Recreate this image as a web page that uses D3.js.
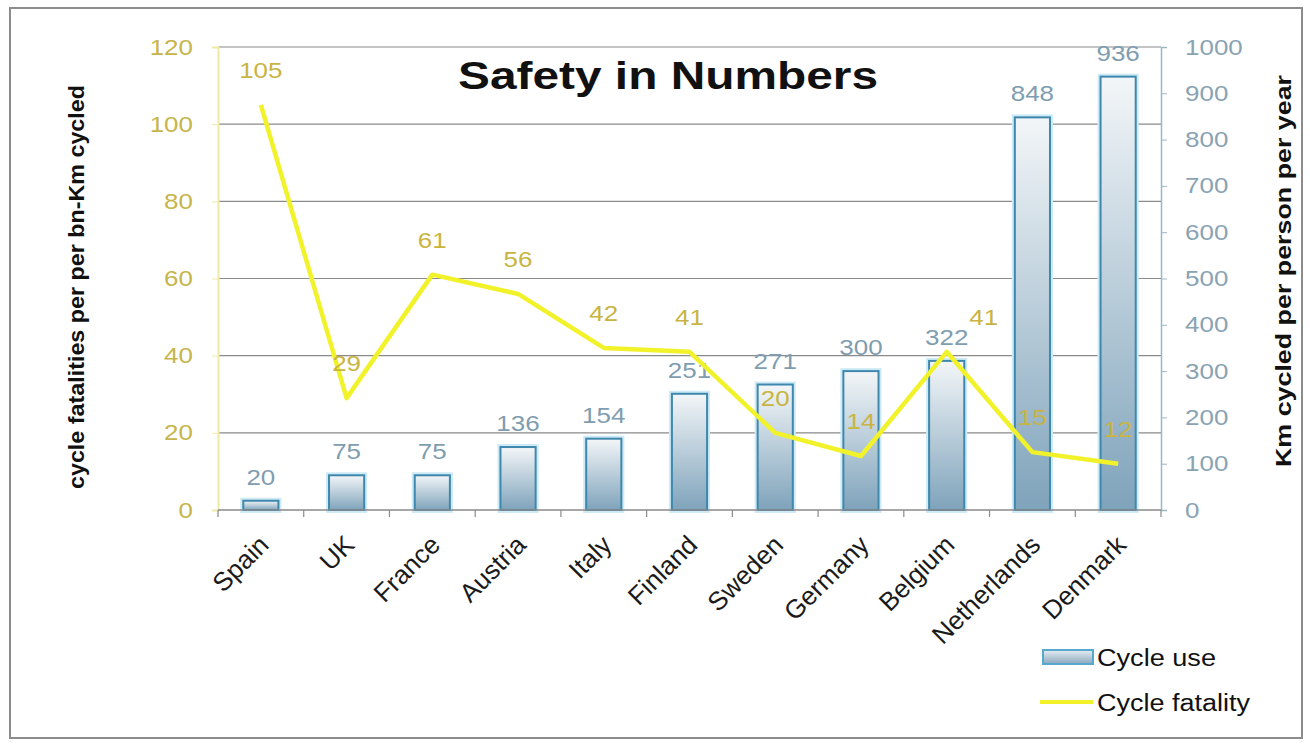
<!DOCTYPE html>
<html lang="en">
<head>
<meta charset="UTF-8">
<title>Safety in Numbers</title>
<style>
  body { margin: 0; background: #fff; }
  text { font-family: "Liberation Sans", Arial, sans-serif; }
</style>
</head>
<body>
<script src="https://d3js.org/d3.v7.min.js"></script>
<script>
// data
var countries = ["Spain", "UK", "France", "Austria", "Italy", "Finland", "Sweden", "Germany", "Belgium", "Netherlands", "Denmark"];
var cycleUse = [20, 75, 75, 136, 154, 251, 271, 300, 322, 848, 936];
var cycleFatality = [105, 29, 61, 56, 42, 41, 20, 14, 41, 15, 12];
var leftTicks = [0, 20, 40, 60, 80, 100, 120];
var rightTicks = [0, 100, 200, 300, 400, 500, 600, 700, 800, 900, 1000];

var width = 1310, height = 745;
var plotLeft = 218, plotRight = 1161, plotTop = 47, plotBottom = 510;
var stretch = 1.18; // the original picture is a bit wider than tall

var svg = d3.select("body").append("svg")
    .attr("width", width)
    .attr("height", height);

var defs = svg.append("defs");
var grad = defs.append("linearGradient").attr("id", "barGrad")
    .attr("x1", 0).attr("y1", 0).attr("x2", 0).attr("y2", 1);
grad.append("stop").attr("offset", "0%").attr("stop-color", "#f3f6f8");
grad.append("stop").attr("offset", "100%").attr("stop-color", "#7fa3bb");
var lgrad = defs.append("linearGradient").attr("id", "legGrad")
    .attr("x1", 0).attr("y1", 0).attr("x2", 0).attr("y2", 1);
lgrad.append("stop").attr("offset", "0%").attr("stop-color", "#e6edf2");
lgrad.append("stop").attr("offset", "100%").attr("stop-color", "#8aa8bd");

// stretch horizontal text to the same width as the picture
function widen(sel, k) {
    sel.each(function() {
        var w = this.getComputedTextLength();
        d3.select(this).attr("textLength", w * (k || stretch)).attr("lengthAdjust", "spacingAndGlyphs");
    });
}

// frame
svg.append("rect")
    .attr("x", 10).attr("y", 8).attr("width", 1292).attr("height", 730)
    .attr("fill", "none").attr("stroke", "#8c8c8c").attr("stroke-width", 2);

var x = d3.scaleBand().domain(countries).range([plotLeft, plotRight]).padding(0);
var yL = d3.scaleLinear().domain([0, 120]).range([plotBottom, plotTop]);
var yR = d3.scaleLinear().domain([0, 1000]).range([plotBottom, plotTop]);

// gridlines
svg.append("g").selectAll("line")
    .data(leftTicks.filter(function(d) { return d > 0; }))
    .enter().append("line")
    .attr("x1", plotLeft).attr("x2", plotRight)
    .attr("y1", function(d) { return yL(d); })
    .attr("y2", function(d) { return yL(d); })
    .attr("stroke", "#8a8a8a").attr("stroke-width", 1.2);

// left axis
var gL = svg.append("g").attr("transform", "translate(" + plotLeft + ",0)")
    .call(d3.axisLeft(yL).tickValues(leftTicks).tickSize(6).tickPadding(19));
gL.select(".domain").attr("stroke", "#eeeaa6").attr("stroke-width", 2);
gL.selectAll(".tick line").attr("stroke", "#eeeaa6");
gL.selectAll(".tick text").attr("fill", "#c6b54a").style("font-size", "22px")
    .style("font-family", "'Liberation Sans', Arial, sans-serif")
    .call(widen);

// right axis
var gR = svg.append("g").attr("transform", "translate(" + plotRight + ",0)")
    .call(d3.axisRight(yR).tickValues(rightTicks).tickFormat(d3.format("d")).tickSize(6).tickPadding(18));
gR.select(".domain").attr("stroke", "#9bb7c6").attr("stroke-width", 1.5);
gR.selectAll(".tick line").attr("stroke", "#9bb7c6");
gR.selectAll(".tick text").attr("fill", "#8aa3b3").style("font-size", "22px")
    .style("font-family", "'Liberation Sans', Arial, sans-serif")
    .call(widen);

// bars
var bw = x.bandwidth() * 0.41;
var bars = svg.append("g");
bars.selectAll("rect.glow")
    .data(cycleUse).enter().append("rect")
    .attr("class", "glow")
    .attr("x", function(d, i) { return x(countries[i]) + x.bandwidth() / 2 - bw / 2; })
    .attr("y", function(d) { return yR(d); })
    .attr("width", bw)
    .attr("height", function(d) { return plotBottom - yR(d); })
    .attr("fill", "none").attr("stroke", "#cdeaf6").attr("stroke-width", 6);
bars.selectAll("rect.bar")
    .data(cycleUse).enter().append("rect")
    .attr("class", "bar")
    .attr("x", function(d, i) { return x(countries[i]) + x.bandwidth() / 2 - bw / 2; })
    .attr("y", function(d) { return yR(d); })
    .attr("width", bw)
    .attr("height", function(d) { return plotBottom - yR(d); })
    .attr("fill", "url(#barGrad)").attr("stroke", "#3f88ad").attr("stroke-width", 2);

// x axis
var gX = svg.append("g").attr("transform", "translate(0," + plotBottom + ")");
gX.append("line").attr("x1", plotLeft).attr("x2", plotRight)
    .attr("stroke", "#8a8a8a").attr("stroke-width", 1.5);
gX.selectAll("line.tk")
    .data(countries.concat(["end"])).enter().append("line")
    .attr("class", "tk")
    .attr("x1", function(d, i) { return plotLeft + i * x.step(); })
    .attr("x2", function(d, i) { return plotLeft + i * x.step(); })
    .attr("y1", 0).attr("y2", 7)
    .attr("stroke", "#8a8a8a").attr("stroke-width", 1.2);
gX.selectAll("text")
    .data(countries).enter().append("text")
    .attr("transform", function(d) {
        return "translate(" + (x(d) + x.bandwidth() / 2 + 3) + ",30) rotate(-45)";
    })
    .attr("text-anchor", "end").attr("dy", "0.35em")
    .attr("fill", "#1a1a1a").style("font-size", "26px")
    .text(function(d) { return d; });

// bar labels
svg.append("g").selectAll("text")
    .data(cycleUse).enter().append("text")
    .attr("x", function(d, i) { return x(countries[i]) + x.bandwidth() / 2; })
    .attr("y", function(d) { return yR(d) - 16; })
    .attr("text-anchor", "middle")
    .attr("fill", "#7f9db0").style("font-size", "22px")
    .text(function(d) { return d; })
    .call(widen);

// fatality line
var line = d3.line()
    .x(function(d, i) { return x(countries[i]) + x.bandwidth() / 2; })
    .y(function(d) { return yL(d); });
svg.append("path")
    .datum(cycleFatality)
    .attr("d", line)
    .attr("fill", "none").attr("stroke", "#f2f22a").attr("stroke-width", 4.5)
    .attr("stroke-linejoin", "round");

svg.append("g").selectAll("text")
    .data(cycleFatality).enter().append("text")
    .attr("x", function(d, i) {
        var cx = x(countries[i]) + x.bandwidth() / 2;
        return countries[i] === "Belgium" ? cx + 37 : cx;
    })
    .attr("y", function(d) { return yL(d) - 27; })
    .attr("text-anchor", "middle")
    .attr("fill", "#c9b441").style("font-size", "22px")
    .text(function(d) { return d; })
    .call(widen);

// title
svg.append("text")
    .attr("x", 668).attr("y", 89)
    .attr("text-anchor", "middle")
    .style("font-size", "39px").style("font-weight", "bold")
    .attr("fill", "#111")
    .text("Safety in Numbers")
    .attr("textLength", 420).attr("lengthAdjust", "spacingAndGlyphs");

// axis titles
svg.append("text")
    .attr("transform", "translate(84,287) rotate(-90)")
    .attr("text-anchor", "middle")
    .style("font-size", "22px").style("font-weight", "bold")
    .attr("fill", "#111")
    .text("cycle fatalities per per bn-Km cycled")
    .attr("textLength", 404).attr("lengthAdjust", "spacingAndGlyphs");
svg.append("text")
    .attr("transform", "translate(1291,271) rotate(-90)")
    .attr("text-anchor", "middle")
    .style("font-size", "22px").style("font-weight", "bold")
    .attr("fill", "#111")
    .text("Km cycled per person per year")
    .attr("textLength", 392).attr("lengthAdjust", "spacingAndGlyphs");

// legend
var leg = svg.append("g");
leg.append("rect").attr("x", 1043).attr("y", 650).attr("width", 50).attr("height", 14)
    .attr("fill", "url(#legGrad)").attr("stroke", "#56a9cc").attr("stroke-width", 2);
leg.append("text").attr("x", 1097).attr("y", 666)
    .style("font-size", "23px").attr("fill", "#111").text("Cycle use")
    .attr("textLength", 119).attr("lengthAdjust", "spacingAndGlyphs");
leg.append("line").attr("x1", 1040).attr("x2", 1093).attr("y1", 702).attr("y2", 702)
    .attr("stroke", "#f2f22a").attr("stroke-width", 4);
leg.append("text").attr("x", 1097).attr("y", 711)
    .style("font-size", "23px").attr("fill", "#111").text("Cycle fatality")
    .attr("textLength", 153).attr("lengthAdjust", "spacingAndGlyphs");
</script>
</body>
</html>
